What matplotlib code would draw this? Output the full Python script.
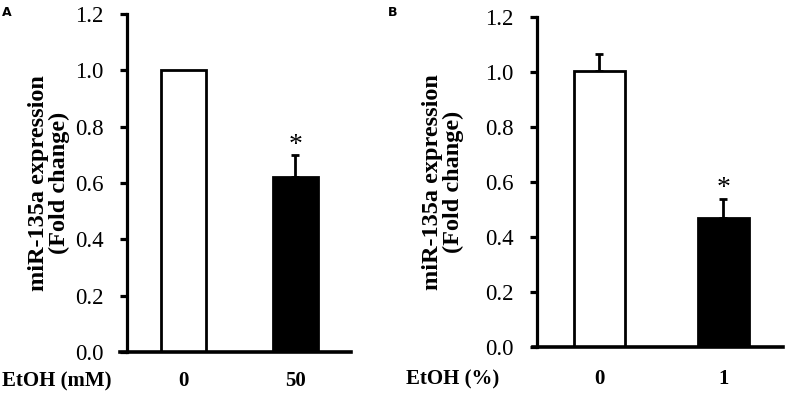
import matplotlib.pyplot as plt
import matplotlib.transforms as mtransforms

plt.rcParams['font.family'] = ['Liberation Serif', 'DejaVu Serif']

# panel A: EtOH (mM)
cats_a = ['0', '50']
vals_a = [1.0, 0.62]
errs_a = [0.0, 0.08]

# panel B: EtOH (%)
cats_b = ['0', '1']
vals_b = [1.005, 0.47]
errs_b = [0.06, 0.07]

yticks = [0.0, 0.2, 0.4, 0.6, 0.8, 1.0, 1.2]
ylabel = 'miR-135a expression\n(Fold change)'

fig = plt.figure(figsize=(7.87, 3.96), dpi=100)


def draw_panel(rect, cats, vals, errs, xlim, spine_x, width, xlabel, letter, letter_x, label_x, cat_y):
    ax = fig.add_axes(rect)
    x = list(range(len(cats)))
    ax.bar(x, vals, width=width, color=['white', 'black'], edgecolor='black', linewidth=2.0, zorder=2)
    for xi, v, e in zip(x, vals, errs):
        if e > 0:
            ax.errorbar(xi, v, yerr=[[0], [e]], fmt='none', ecolor='black',
                        elinewidth=2.0, capsize=3, capthick=2.0, zorder=1)
    # significance mark
    ax.text(1, vals[1] + errs[1] - 0.01, '*', ha='center', va='bottom', fontsize=20)

    ax.set_xlim(*xlim)
    ax.set_ylim(0, 1.2)
    ax.spines['top'].set_visible(False)
    ax.spines['right'].set_visible(False)
    ax.spines['left'].set_position(('data', spine_x))
    ax.spines['left'].set_linewidth(2.3)
    ax.spines['bottom'].set_linewidth(2.6)
    ax.set_yticks(yticks)
    ax.set_yticklabels([f'{t:.1f}' for t in yticks], fontsize=16.5)
    ax.tick_params(axis='y', direction='out', length=5, width=2.3, pad=12)
    ax.set_xticks([])

    # category labels under the bars
    trans = mtransforms.blended_transform_factory(ax.transData, fig.transFigure)
    for xi, c in zip(x, cats):
        ax.text(xi, cat_y, c, fontsize=15, fontweight='bold', ha='center', va='center',
                transform=trans, clip_on=False)

    fig.text(label_x, rect[1] + rect[3] / 2, ylabel, rotation=90, fontsize=17.5, fontweight='bold',
             linespacing=1.05, ha='center', va='center', multialignment='center')
    fig.text(xlabel[1], cat_y, xlabel[0], fontsize=15, fontweight='bold', ha='left', va='center')
    fig.text(letter_x, 0.985, letter, fontsize=9, fontweight='bold', family='DejaVu Sans', ha='left', va='top')
    return ax


draw_panel([120 / 787, 1 - 352 / 396, 231 / 787, 338 / 396], cats_a, vals_a, errs_a,
           (-0.57, 1.5), -0.507, 0.40, ('EtOH (mM)', 0.003), 'A', 0.002, 49 / 787, 1 - 381 / 396)
draw_panel([533 / 787, 1 - 347 / 396, 250 / 787, 330 / 396], cats_b, vals_b, errs_b,
           (-0.536, 1.48), -0.504, 0.41, ('EtOH (%)', 406 / 787), 'B', 0.493, 443 / 787, 1 - 379 / 396)

fig.savefig('out.png', dpi=100)
